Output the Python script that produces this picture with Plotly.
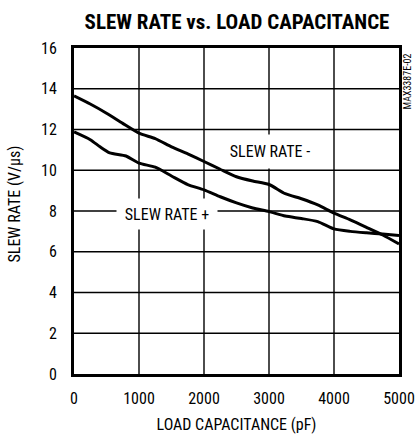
import plotly.graph_objects as go

# Data
cap_minus = [0, 250, 500, 750, 1000, 1250, 1500, 1750, 2000, 2250, 2500, 2750,
             3000, 3250, 3500, 3750, 4000, 4250, 4500, 4750, 5000]
slew_minus = [13.65, 13.25, 12.8, 12.3, 11.82, 11.55, 11.15, 10.8, 10.43, 10.05, 9.68, 9.47,
              9.3, 8.85, 8.6, 8.3, 7.9, 7.57, 7.2, 6.82, 6.38]

cap_plus = [0, 250, 400, 550, 800, 1000, 1250, 1500, 1750, 2000, 2250, 2500, 2750,
            3000, 3250, 3500, 3750, 4000, 4250, 4500, 4750, 5000]
slew_plus = [11.88, 11.5, 11.15, 10.85, 10.7, 10.35, 10.15, 9.72, 9.3, 9.04, 8.7, 8.4, 8.15,
             7.97, 7.75, 7.63, 7.48, 7.12, 7.0, 6.93, 6.87, 6.8]

x_ticks = [0, 1000, 2000, 3000, 4000, 5000]
y_ticks = [0, 2, 4, 6, 8, 10, 12, 14, 16]

title_text = "SLEW RATE vs. LOAD CAPACITANCE"
x_title = "LOAD CAPACITANCE (pF)"
y_title = "SLEW RATE (V/μs)"
label_minus = "SLEW RATE -"
label_plus = "SLEW RATE +"
side_label = "MAX3387E-02"

FONT = "Liberation Sans Narrow, Roboto Condensed, DejaVu Sans Condensed, Arial Narrow, sans-serif"

W, H = 418, 434
ML, MR, MT, MB = 74, 19, 48, 60
X_RANGE = [x_ticks[0], x_ticks[-1]]
Y_RANGE = [y_ticks[0], y_ticks[-1]]

fig = go.Figure()

# grid drawn as a trace (from the tick arrays) so it sits under the curves
gx, gy = [], []
for xv in x_ticks[1:-1]:
    gx += [xv, xv, None]
    gy += [Y_RANGE[0], Y_RANGE[1], None]
for yv in y_ticks[1:-1]:
    gx += [X_RANGE[0], X_RANGE[1], None]
    gy += [yv, yv, None]
fig.add_trace(go.Scatter(x=gx, y=gy, mode="lines", line=dict(color="#000000", width=1.4),
                         showlegend=False, hoverinfo="skip", connectgaps=False))

for xs, ys in [(cap_minus, slew_minus), (cap_plus, slew_plus)]:
    fig.add_trace(go.Scatter(x=xs, y=ys, mode="lines",
                             line=dict(color="black", width=3, shape="spline", smoothing=0.6),
                             showlegend=False, hoverinfo="skip"))

# curve labels with white boxes that interrupt the gridlines
fig.add_annotation(x=1427, y=7.87, text=label_plus, showarrow=False,
                   width=100, height=30, bgcolor="white", borderpad=0,
                   font=dict(family=FONT, size=16, color="black"))
fig.add_annotation(x=3010, y=10.93, text=label_minus, showarrow=False,
                   width=96, height=33, bgcolor="white", borderpad=0,
                   font=dict(family=FONT, size=16, color="black"))

pw = W - ML - MR
ph = H - MT - MB
# y-axis title
fig.add_annotation(xref="paper", yref="paper", x=(13.5 - ML) / pw, y=(H - MB - 204) / ph,
                   text=y_title, textangle=-90, showarrow=False, xanchor="center", yanchor="middle",
                   font=dict(family=FONT, size=16, color="black"))
# side code
fig.add_annotation(xref="paper", yref="paper", x=(407.5 - ML) / pw, y=(H - MB - 82) / ph,
                   text=side_label, textangle=-90, showarrow=False, xanchor="center", yanchor="middle",
                   font=dict(family=FONT, size=10, color="black"))

fig.update_layout(
    template="none",
    width=W, height=H,
    margin=dict(l=ML, r=MR, t=MT, b=MB, pad=0),
    paper_bgcolor="white", plot_bgcolor="white",
    title=dict(text="<b>" + title_text + "</b>", x=237 / W, xanchor="center",
               y=1 - 21.5 / H, yanchor="middle",
               font=dict(family=FONT, size=21, color="black")),
    font=dict(family=FONT, size=16, color="black"),
)
fig.update_xaxes(range=X_RANGE, tickmode="array", tickvals=x_ticks,
                 ticktext=[str(v) for v in x_ticks], showgrid=False,
                 showline=True, linecolor="black", linewidth=3, mirror=True,
                 ticks="outside", ticklen=8, tickcolor="rgba(0,0,0,0)",
                 title=dict(text=x_title, standoff=12, font=dict(family=FONT, size=16)),
                 zeroline=False, fixedrange=True)
fig.update_yaxes(range=Y_RANGE, tickmode="array", tickvals=y_ticks,
                 ticktext=[str(v) for v in y_ticks], showgrid=False,
                 showline=True, linecolor="black", linewidth=3, mirror=True,
                 ticks="outside", ticklen=11, tickcolor="rgba(0,0,0,0)",
                 zeroline=False, fixedrange=True)

fig.write_html("out.html", post_script="document.body.style.margin='0';",
               config={"displayModeBar": False})
